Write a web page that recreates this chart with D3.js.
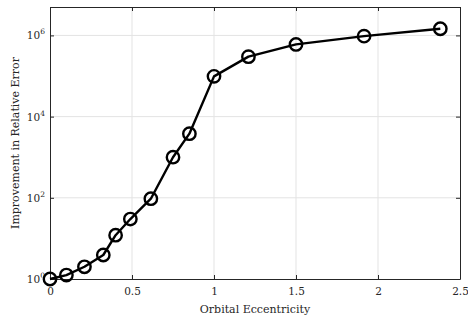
<!DOCTYPE html>
<html>
<head>
<meta charset="utf-8">
<script src="https://cdn.jsdelivr.net/npm/d3@7"></script>
<style>
  body { margin: 0; background: #fff; }
  text { font-family: "DejaVu Serif", "Liberation Serif", serif; fill: #262626; }
</style>
</head>
<body>
<svg width="468" height="320"></svg>
<script>
// data
var ecc = [0, 0.1, 0.21, 0.325, 0.4, 0.49, 0.615, 0.75, 0.85, 1.0, 1.21, 1.5, 1.915, 2.38];
var improvement = [1, 1.25, 2.0, 3.9, 12, 30, 95, 1000, 3800, 98000, 300000, 600000, 960000, 1460000];
var xTicks = [0, 0.5, 1, 1.5, 2, 2.5];
var yTicks = [0, 2, 4, 6]; // exponents

var margin = {left: 50, right: 8, top: 7, bottom: 41};
var width = 468, height = 320;

var svg = d3.select("svg");

var x = d3.scaleLinear().domain([0, 2.5]).range([margin.left, width - margin.right]);
var y = d3.scaleLog().domain([1, Math.pow(10, 6.7)]).range([height - margin.bottom, margin.top]);

var axisColor = "#262626";
var gridColor = "#e3e3e3";

// grid
svg.append("g").selectAll("line")
    .data(xTicks.slice(1, -1))
    .enter().append("line")
    .attr("x1", function(d){return x(d);})
    .attr("x2", function(d){return x(d);})
    .attr("y1", margin.top)
    .attr("y2", height - margin.bottom)
    .style("stroke", gridColor)
    .style("stroke-width", "1px");

svg.append("g").selectAll("line")
    .data(yTicks.slice(1))
    .enter().append("line")
    .attr("x1", margin.left)
    .attr("x2", width - margin.right)
    .attr("y1", function(d){return y(Math.pow(10, d));})
    .attr("y2", function(d){return y(Math.pow(10, d));})
    .style("stroke", gridColor)
    .style("stroke-width", "1px");

// axes (MATLAB style, ticks inward, box)
var yTickVals = yTicks.map(function(e){return Math.pow(10, e);});

var gBottom = svg.append("g")
    .attr("transform", "translate(0," + (height - margin.bottom) + ")")
    .call(d3.axisBottom(x).tickValues(xTicks).tickSizeInner(-4).tickSizeOuter(0).tickPadding(9)
        .tickFormat(function(d){return d;}));
var gTop = svg.append("g")
    .attr("transform", "translate(0," + margin.top + ")")
    .call(d3.axisTop(x).tickValues(xTicks).tickSizeInner(-4).tickSizeOuter(0).tickFormat(""));
var gLeft = svg.append("g")
    .attr("transform", "translate(" + margin.left + ",0)")
    .call(d3.axisLeft(y).tickValues(yTickVals).tickSizeInner(-4).tickSizeOuter(0).tickFormat(""));
var gRight = svg.append("g")
    .attr("transform", "translate(" + (width - margin.right) + ",0)")
    .call(d3.axisRight(y).tickValues(yTickVals).tickSizeInner(-4).tickSizeOuter(0).tickFormat(""));

[gBottom, gTop, gLeft, gRight].forEach(function(g) {
    g.selectAll("path").style("stroke", axisColor).style("stroke-width", "1px");
    g.selectAll("line").style("stroke", axisColor);
});
gBottom.selectAll("text").style("font-size", "10.5px").style("fill", axisColor)
    .style("font-family", "'DejaVu Serif', serif");

// y tick labels with superscripts
var yl = svg.append("g").selectAll("text")
    .data(yTicks)
    .enter().append("text")
    .attr("x", margin.left - 5)
    .attr("y", function(d){return y(Math.pow(10, d)) + 4;})
    .attr("text-anchor", "end")
    .style("font-size", "10.5px");
yl.append("tspan").text("10");
yl.append("tspan").attr("dy", -5).style("font-size", "7.5px").text(function(d){return d;});

// line + markers
var line = d3.line()
    .x(function(d){return x(d[0]);})
    .y(function(d){return y(d[1]);});
var pts = d3.zip(ecc, improvement);

svg.append("path")
    .datum(pts)
    .attr("d", line)
    .style("fill", "none")
    .style("stroke", "#000")
    .style("stroke-width", "2.4px")
    .style("stroke-linejoin", "round");

svg.append("g").selectAll("circle")
    .data(pts)
    .enter().append("circle")
    .attr("cx", function(d){return x(d[0]);})
    .attr("cy", function(d){return y(d[1]);})
    .attr("r", 6.2)
    .style("fill", "none")
    .style("stroke", "#000")
    .style("stroke-width", "2.4px");

// titles
svg.append("text")
    .attr("x", (margin.left + width - margin.right) / 2)
    .attr("y", 313)
    .attr("text-anchor", "middle")
    .style("font-size", "11px")
    .text("Orbital Eccentricity");

svg.append("text")
    .attr("transform", "translate(19," + ((margin.top + height - margin.bottom) / 2) + ") rotate(-90)")
    .attr("text-anchor", "middle")
    .style("font-size", "11px")
    .text("Improvement in Relative Error");
</script>
</body>
</html>
